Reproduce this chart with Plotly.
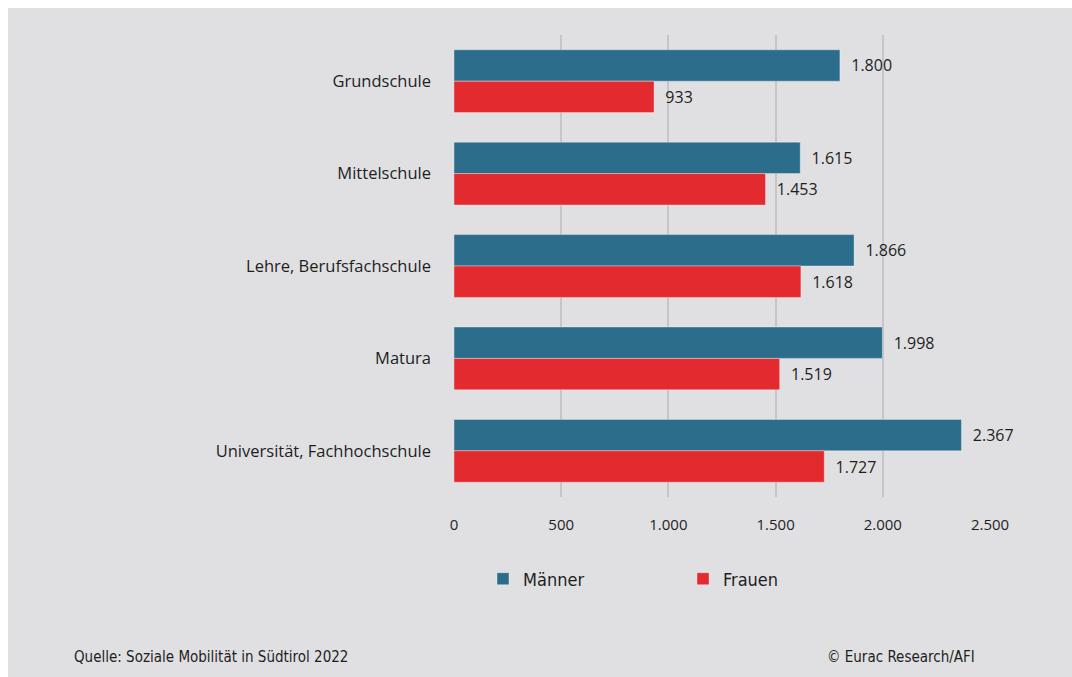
import plotly.graph_objects as go

categories = ["Grundschule", "Mittelschule", "Lehre, Berufsfachschule", "Matura", "Universität, Fachhochschule"]
maenner = [1800, 1615, 1866, 1998, 2367]
frauen = [933, 1453, 1618, 1519, 1727]
series_names = ["Männer", "Frauen"]
x_ticks = [0, 500, 1000, 1500, 2000, 2500]

BG = "#e0e0e2"
C_M = "#2c6d8c"
C_F = "#e32a2f"
TXT = "#1e1e1e"
COND = "Liberation Sans Narrow, DejaVu Sans Condensed, Roboto Condensed, Roboto, sans-serif"

OFF = 8  # page body margin
W, H = 1072 - OFF, 677 - OFF
L, R, T, B = 454 - OFF, 990 - OFF, 35 - OFF, 497 - OFF
pw, ph = R - L, B - T

def px(x):
    return (x - OFF - L) / pw

def py(y):
    return (B - (y - OFF)) / ph

fig = go.Figure()
for name, vals, col in [(series_names[0], maenner, C_M), (series_names[1], frauen, C_F)]:
    fig.add_trace(go.Bar(
        y=categories, x=vals, name=name, orientation="h",
        marker=dict(color=col, line=dict(color="rgba(255,255,255,0.35)", width=1)),
        texttemplate="\u00a0\u00a0%{x:,}", textposition="outside",
        textfont=dict(family="Open Sans", size=16, color=TXT),
        cliponaxis=False,
    ))

fig.update_layout(
    width=W, height=H,
    margin=dict(l=L, r=W - R, t=T, b=H - B, pad=0),
    paper_bgcolor=BG, plot_bgcolor=BG,
    separators=",.",
    barmode="group", bargap=0.32, bargroupgap=0,
    font=dict(family="Open Sans", size=15, color=TXT),
    showlegend=True,
    legend=dict(orientation="h", x=px(483), y=py(579), xanchor="left", yanchor="middle",
                font=dict(family=COND, size=18, color=TXT), itemwidth=30,
                entrywidth=155, entrywidthmode="pixels", bgcolor="rgba(0,0,0,0)"),
    xaxis=dict(range=[0, 2500], tickvals=x_ticks, tickformat=",", showgrid=True,
               gridcolor="#c6c6c9", gridwidth=1.5, zeroline=False, showline=False,
               ticks="", ticklabelstandoff=17,
               tickfont=dict(family="Open Sans", size=15, color=TXT)),
    yaxis=dict(autorange="reversed", showgrid=False, zeroline=False, showline=False,
               ticks="", ticklabelstandoff=22,
               tickfont=dict(family="Open Sans", size=16.5, color=TXT)),
    annotations=[
        dict(text="Quelle: Soziale Mobilität in Südtirol 2022", xref="paper", yref="paper",
             x=px(72), y=py(657), xanchor="left", yanchor="middle", showarrow=False,
             font=dict(family=COND, size=15, color=TXT)),
        dict(text="© Eurac Research/AFI", xref="paper", yref="paper",
             x=px(977), y=py(657), xanchor="right", yanchor="middle", showarrow=False,
             font=dict(family=COND, size=15, color=TXT)),
    ],
)

page_js = (
    "document.documentElement.style.background='white';"
    "document.body.style.margin='8px 0 0 8px';"
    "document.body.style.background='" + BG + "';"
    "document.body.style.overflow='hidden';"
)
fig.write_html("out.html", post_script=page_js)
